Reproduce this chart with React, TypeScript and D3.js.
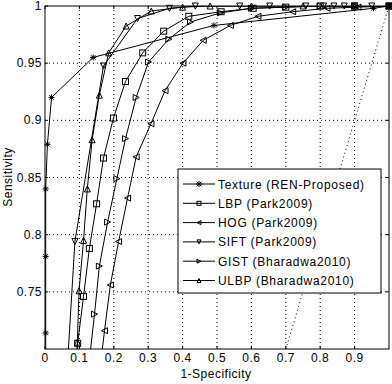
import React from 'react';
import * as d3 from 'd3';

// ROC curves, values (points below 0.7 are clipped by the axes)
const names = [
  'Texture (REN-Proposed)',
  'LBP (Park2009)',
  'HOG (Park2009)',
  'SIFT (Park2009)',
  'GIST (Bharadwa2010)',
  'ULBP (Bharadwa2010)',
];
const markers = ['star', 'square', 'left', 'down', 'right', 'up'];

const textureX = [0.002, 0.002, 0.002, 0.002, 0.007, 0.019, 0.14, 0.491, 0.955, 1.0];
const textureY = [0.6, 0.714, 0.781, 0.84, 0.879, 0.92, 0.955, 0.983, 0.998, 1.0];

const lbpX = [0.08, 0.095, 0.112, 0.129, 0.15, 0.17, 0.199, 0.234, 0.284, 0.345, 0.418, 0.512, 0.605, 0.7, 0.8, 0.9, 1.0];
const lbpY = [0.66, 0.705, 0.746, 0.788, 0.827, 0.867, 0.902, 0.934, 0.959, 0.978, 0.991, 0.995, 0.998, 0.999, 1.0, 1.0, 1.0];

const hogX = [0.155, 0.173, 0.19, 0.214, 0.24, 0.265, 0.308, 0.349, 0.401, 0.46, 0.539, 0.619, 0.72, 0.82, 0.91, 1.0];
const hogY = [0.67, 0.716, 0.756, 0.794, 0.832, 0.868, 0.897, 0.926, 0.95, 0.97, 0.983, 0.991, 0.995, 0.998, 0.999, 1.0];

const siftX = [0.06, 0.087, 0.17, 0.269, 0.362, 0.437, 0.566, 0.653, 0.758, 0.81, 0.84, 0.87, 0.9, 0.95, 1.0];
const siftY = [0.66, 0.794, 0.9475, 0.989, 0.998, 1.0, 1.0, 1.0, 1.0, 1.0, 1.0, 1.0, 1.0, 1.0, 1.0];

const gistX = [0.125, 0.144, 0.158, 0.182, 0.209, 0.234, 0.265, 0.301, 0.36, 0.423, 0.51, 0.6, 0.7, 0.8, 0.9, 1.0];
const gistY = [0.68, 0.7305, 0.7725, 0.811, 0.849, 0.884, 0.92, 0.951, 0.971, 0.986, 0.994, 0.998, 0.999, 1.0, 1.0, 1.0];

const ulbpX = [0.09, 0.094, 0.099, 0.112, 0.123, 0.137, 0.158, 0.185, 0.236, 0.309, 0.4, 0.48, 0.6, 0.75, 0.9, 1.0];
const ulbpY = [0.66, 0.706, 0.751, 0.795, 0.84, 0.883, 0.922, 0.959, 0.9825, 0.9956, 0.999, 1.0, 1.0, 1.0, 1.0, 1.0];

const seriesX = [textureX, lbpX, hogX, siftX, gistX, ulbpX];
const seriesY = [textureY, lbpY, hogY, siftY, gistY, ulbpY];

const xTicks = [0, 0.1, 0.2, 0.3, 0.4, 0.5, 0.6, 0.7, 0.8, 0.9];
const yTicks = [0.75, 0.8, 0.85, 0.9, 0.95, 1];
const chanceLine = [0.7, 1.0];

const font = '"Liberation Sans", Arial, sans-serif';

const Marker = ({ type, x, y, s }: { type: string; x: number; y: number; s: number }) => {
  const p = { fill: 'none', stroke: '#000', strokeWidth: 1 };
  if (type === 'star') {
    const d = s * 0.75;
    return (
      <path {...p} d={`M${x - s},${y}H${x + s}M${x},${y - s}V${y + s}M${x - d},${y - d}L${x + d},${y + d}M${x - d},${y + d}L${x + d},${y - d}`} />
    );
  }
  if (type === 'square') return <rect {...p} x={x - s} y={y - s} width={2 * s} height={2 * s} />;
  let pts: number[][] = [];
  if (type === 'up') pts = [[x, y - s], [x + s, y + s], [x - s, y + s]];
  if (type === 'down') pts = [[x, y + s], [x + s, y - s], [x - s, y - s]];
  if (type === 'left') pts = [[x - s, y], [x + s, y - s], [x + s, y + s]];
  if (type === 'right') pts = [[x + s, y], [x - s, y - s], [x - s, y + s]];
  return <polygon {...p} points={pts.map((q) => q.join(',')).join(' ')} />;
};

export default function App() {
  const left = 45, right = 389, top = 6, bottom = 349;
  const x = d3.scaleLinear().domain([0, 1]).range([left, right]);
  const y = d3.scaleLinear().domain([0.7, 1]).range([bottom, top]);
  const line = d3.line<number[]>().x((d) => x(d[0])).y((d) => y(d[1]));

  const lgX = 178, lgY = 169, lgW = 203, lgH = 124, rowH = 19.3;

  return (
    <svg width={392} height={384} style={{ position: 'absolute', left: 0, top: 0, background: '#fff' }} fontFamily={font}>
      <defs>
        <clipPath id="plot">
          <rect x={left} y={top} width={right - left} height={bottom - top} />
        </clipPath>
      </defs>
      <rect x={0} y={0} width={392} height={384} fill="#fff" />
      {/* grid */}
      {xTicks.slice(1).map((t) => (
        <line key={'gx' + t} x1={x(t)} x2={x(t)} y1={top} y2={bottom} stroke="#000" strokeDasharray="1 3" />
      ))}
      {yTicks.slice(0, -1).map((t) => (
        <line key={'gy' + t} x1={left} x2={right} y1={y(t)} y2={y(t)} stroke="#000" strokeDasharray="1 3" />
      ))}
      <path d={line(chanceLine.map((v) => [v, v])) || ''} stroke="#000" fill="none" strokeDasharray="1 3" />
      {/* curves */}
      <g clipPath="url(#plot)">
        {seriesX.map((xs, i) => (
          <path key={i} d={line(xs.map((v, j) => [v, seriesY[i][j]])) || ''} fill="none" stroke="#000" strokeWidth={1} />
        ))}
      </g>
      {seriesX.map((xs, i) =>
        xs.map((v, j) =>
          seriesY[i][j] >= 0.7 ? (
            <Marker key={i + '-' + j} type={markers[i]} x={x(v)} y={y(seriesY[i][j])} s={3} />
          ) : null
        )
      )}
      {/* axes box and ticks */}
      <rect x={left} y={top} width={right - left} height={bottom - top} fill="none" stroke="#000" />
      {xTicks.map((t) => (
        <g key={'tx' + t}>
          <line x1={x(t)} x2={x(t)} y1={bottom} y2={bottom - 3} stroke="#000" />
          <line x1={x(t)} x2={x(t)} y1={top} y2={top + 3} stroke="#000" />
          <text x={x(t)} y={362} textAnchor="middle" fontSize={12} letterSpacing={0.5}>{String(t)}</text>
        </g>
      ))}
      {yTicks.map((t) => (
        <g key={'ty' + t}>
          <line x1={left} x2={left + 3} y1={y(t)} y2={y(t)} stroke="#000" />
          <line x1={right} x2={right - 3} y1={y(t)} y2={y(t)} stroke="#000" />
          <text x={42} y={y(t) + 4} textAnchor="end" fontSize={12} letterSpacing={0.5}>{String(t)}</text>
        </g>
      ))}
      <text x={216} y={378} textAnchor="middle" fontSize={12} letterSpacing={0.5}>1-Specificity</text>
      <text transform={`translate(12,177) rotate(-90)`} textAnchor="middle" fontSize={12} letterSpacing={0.5}>Sensitivity</text>
      {/* legend */}
      <rect x={lgX} y={lgY} width={lgW} height={lgH} fill="#fff" stroke="#000" />
      {names.map((n, i) => {
        const cy = lgY + 15 + i * rowH;
        return (
          <g key={n}>
            <line x1={lgX + 5} x2={lgX + 37} y1={cy} y2={cy} stroke="#000" />
            <Marker type={markers[i]} x={lgX + 21} y={cy} s={markers[i] === 'star' ? 3 : 2} />
            <text x={lgX + 40} y={cy + 4.5} fontSize={12} letterSpacing={0.7}>{n}</text>
          </g>
        );
      })}
    </svg>
  );
}
